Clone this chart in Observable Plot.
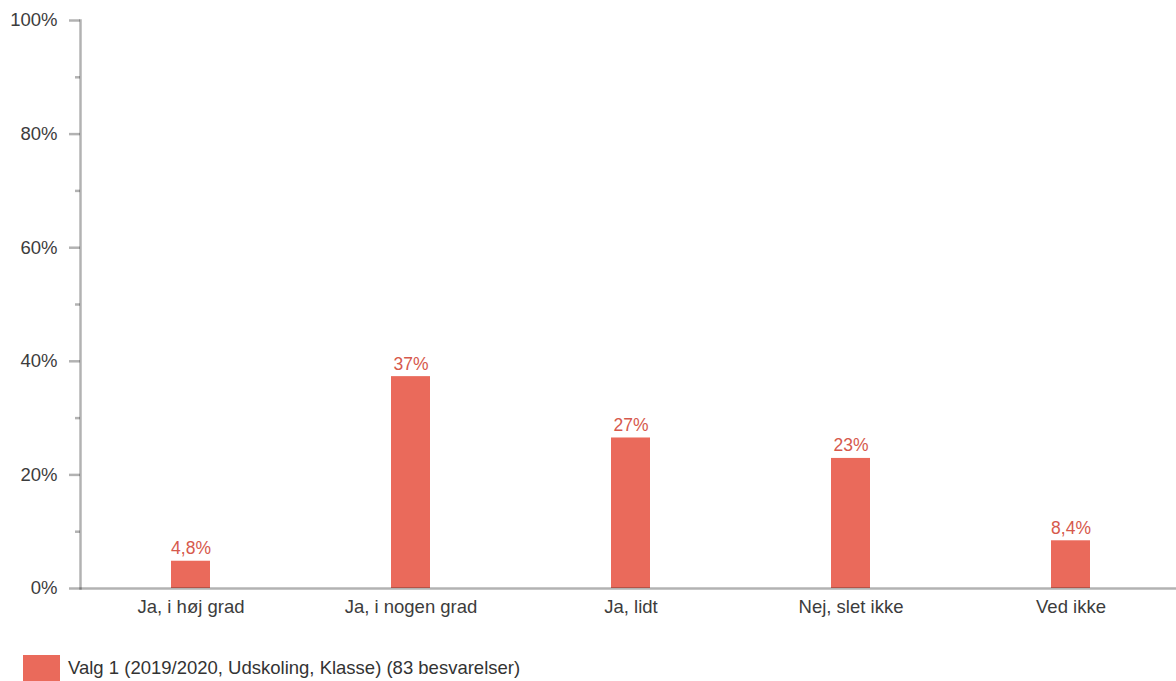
<!DOCTYPE html>
<html>
<head>
<meta charset="utf-8">
<script src="https://cdn.jsdelivr.net/npm/d3@7"></script>
<script src="https://cdn.jsdelivr.net/npm/@observablehq/plot@0.6"></script>
<style>
  html, body { margin: 0; padding: 0; background: #fff; }
  body { width: 1176px; height: 681px; overflow: hidden; font-family: "Liberation Sans", Arial, sans-serif; }
  #legend { display: flex; align-items: center; margin: 25px 0 0 23px; font-size: 18.5px; color: #333; }
  #legend .sw { width: 37px; height: 26px; margin-right: 8px; flex: none; }
</style>
</head>
<body>
<div id="chart"></div>
<div id="legend"></div>
<script>
const categories = ["Ja, i høj grad", "Ja, i nogen grad", "Ja, lidt", "Nej, slet ikke", "Ved ikke"];
const values = [4.8, 37.3, 26.5, 22.9, 8.4];
const valueLabels = ["4,8%", "37%", "27%", "23%", "8,4%"];
const majorTicks = [0, 20, 40, 60, 80, 100];
const minorTicks = [10, 30, 50, 70, 90];
const seriesName = "Valg 1 (2019/2020, Udskoling, Klasse) (83 besvarelser)";

const barColor = "#ea6a5b";
const labelColor = "#d6594c";
const axisColor = "rgba(0,0,0,0.3)";
const textColor = "#3c3c3c";

const data = categories.map((c, i) => ({category: c, value: values[i], label: valueLabels[i]}));

const chart = Plot.plot({
  width: 1176,
  height: 630,
  marginTop: 20,
  marginBottom: 42,
  marginLeft: 80,
  marginRight: 0,
  style: {fontFamily: "'Liberation Sans', Arial, sans-serif", fontSize: "18.5px", color: textColor, background: "#fff"},
  x: {domain: categories, range: [80.5, 1180.5], paddingInner: 0.823, paddingOuter: 0.4115},
  y: {domain: [0, 100]},
  marks: [
    Plot.barY(data, {x: "category", y: "value", fill: barColor}),
    Plot.text(data, {x: "category", y: "value", text: "label", fill: labelColor, fontSize: 17.5, lineAnchor: "bottom", dy: -7}),
    Plot.ruleY([0], {stroke: axisColor, strokeWidth: 2.5}),
    Plot.frame({anchor: "left", stroke: axisColor, strokeWidth: 2.5}),
    Plot.axisY(majorTicks, {tickSize: 11, tickPadding: 12, stroke: axisColor, strokeWidth: 2.5, tickFormat: d => d + "%", fill: textColor, fontSize: 18.5, label: null}),
    Plot.axisY(minorTicks, {tickSize: 5, stroke: axisColor, strokeWidth: 2.5, text: null, label: null}),
    Plot.axisX({tickSize: 0, tickPadding: 11, fill: textColor, fontSize: 18.5, label: null})
  ]
});
document.getElementById("chart").appendChild(chart);

const legend = document.getElementById("legend");
const sw = document.createElement("div");
sw.className = "sw";
sw.style.background = barColor;
const lt = document.createElement("span");
lt.textContent = seriesName;
legend.appendChild(sw);
legend.appendChild(lt);
</script>
</body>
</html>
